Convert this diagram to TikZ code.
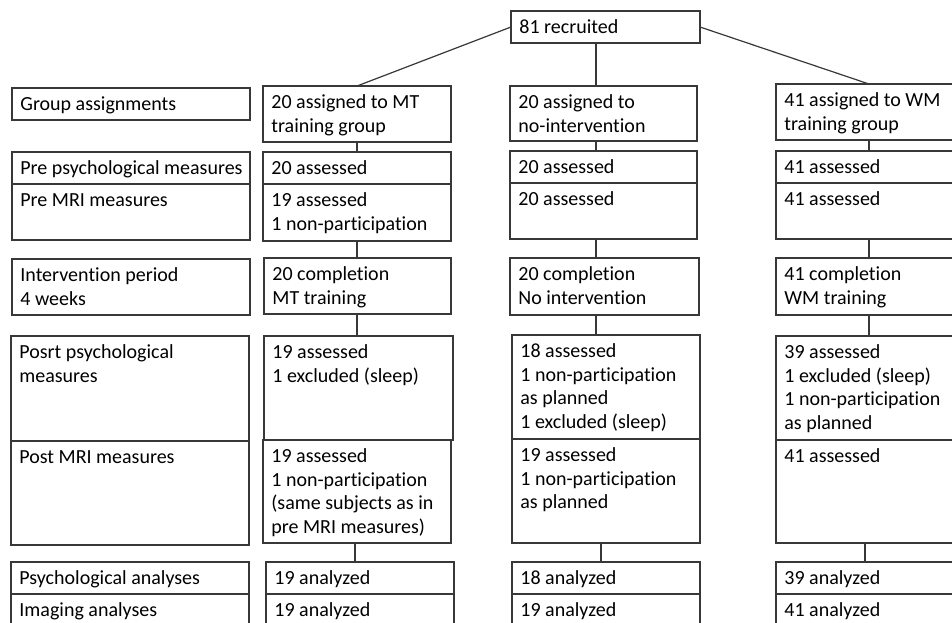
\documentclass[tikz,border=0pt]{standalone}
\usepackage{fontspec}
\setmainfont[Ligatures=NoCommon]{Carlito}
\usetikzlibrary{calc}
\tikzset{
  box/.style={draw=black!78, line width=1pt, inner sep=0pt, outer sep=0pt, rectangle},
  txt/.style={inner sep=0pt, outer sep=0pt, text=black, font=\fontsize{15}{17.6}\selectfont},
  conn/.style={draw=black!78, line width=0.9pt}
}
\newcommand\bx[6]{%
  \pgfmathsetmacro\bw{(#4-#2)*0.75}%
  \pgfmathsetmacro\bh{(#5-#3)*0.75}%
  \node[box, minimum width=\bw pt, minimum height=\bh pt, anchor=north west] (#1) at (#2,#3) {};
  \node[txt, anchor=base west] (#1t) at ([xshift=6.3pt,yshift=-17pt]#1.north west)
    {\begin{tabular}[t]{@{}l@{}}#6\end{tabular}};
}
\begin{document}
\begin{tikzpicture}[x=0.75pt,y=-0.75pt]
\path[use as bounding box] (0,0) rectangle (952,622);
\clip (0,0) rectangle (952,622);
\fill[white] (0,0) rectangle (952,622);

% top
\bx{top}{511}{11}{700}{43}{81 recruited}

% left labels
\bx{lga}{12}{88}{250}{120}{Group assignments}
\bx{lpp}{12}{152}{250}{184}{Pre psychological measures}
\bx{lpm}{12}{184}{250}{240}{Pre MRI measures}
\bx{lip}{12}{259}{250}{315}{Intervention period\\4 weeks}
\bx{lpop}{11}{336}{249}{441}{Posrt psychological\\measures}
\bx{lpom}{11}{441}{249}{545}{Post MRI measures}
\bx{lpa}{11}{562}{249}{594}{Psychological analyses}
\bx{lia}{11}{594}{249}{650}{Imaging analyses}

% column 1 (MT)
\bx{c1ga}{263}{86}{451}{142}{20 assigned to MT\\training group}
\bx{c1pp}{263}{152}{451}{184}{20 assessed}
\bx{c1pm}{263}{184}{451}{241}{19 assessed\\1 non-participation}
\bx{c1ip}{264}{258}{451}{314}{20 completion\\MT training}
\bx{c1pop}{264}{336}{453}{440}{19 assessed\\1 excluded (sleep)}
\bx{c1pom}{263}{440}{451}{543}{19 assessed\\1 non-participation\\(same subjects as in\\pre MRI measures)}
\bx{c1pa}{266}{562}{454}{594}{19 analyzed}
\bx{c1ia}{266}{594}{454}{650}{19 analyzed}

% column 2 (no intervention)
\bx{c2ga}{510}{86}{697}{141}{20 assigned to\\no-intervention}
\bx{c2pp}{510}{151}{697}{183}{20 assessed}
\bx{c2pm}{510}{183}{697}{239}{20 assessed}
\bx{c2ip}{510}{258}{699}{315}{20 completion\\No intervention}
\bx{c2pop}{512}{335}{700}{439}{18 assessed\\1 non-participation\\as planned\\1 excluded (sleep)}
\bx{c2pom}{512}{439}{700}{543}{19 assessed\\1 non-participation\\as planned}
\bx{c2pa}{512}{562}{700}{594}{18 analyzed}
\bx{c2ia}{512}{594}{700}{650}{19 analyzed}

% column 3 (WM)
\bx{c3ga}{776}{84}{962}{140}{41 assigned to WM\\training group}
\bx{c3pp}{776}{151}{962}{183}{41 assessed}
\bx{c3pm}{776}{183}{962}{239}{41 assessed}
\bx{c3ip}{776}{258}{962}{315}{41 completion\\WM training}
\bx{c3pop}{776}{336}{962}{440}{39 assessed\\1 excluded (sleep)\\1 non-participation\\as planned}
\bx{c3pom}{776}{440}{962}{543}{41 assessed}
\bx{c3pa}{776}{562}{962}{594}{39 analyzed}
\bx{c3ia}{776}{594}{962}{650}{41 analyzed}

% connector x positions
\coordinate (xa) at (357,0);
\coordinate (xb) at (355,0);
\coordinate (xc) at (596,0);
\coordinate (xd) at (601,0);
\coordinate (xe) at (869,0);
\coordinate (xf) at (865,0);

% from recruited
\draw[conn] (top.west) -- (c1ga.north);
\draw[conn] (top.east) -- (c3ga.north);
\draw[conn] (xc |- top.south) -- (xc |- c2ga.north);

% column 1
\draw[conn] (xa |- c1ga.south) -- (xa |- c1pp.north);
\draw[conn] (xa |- c1pm.south) -- (xa |- c1ip.north);
\draw[conn] (xa |- c1ip.south) -- (xa |- c1pop.north);
\draw[conn] (xb |- c1pom.south) -- (xb |- c1pa.north);

% column 2
\draw[conn] (xc |- c2ga.south) -- (xc |- c2pp.north);
\draw[conn] (xc |- c2pm.south) -- (xc |- c2ip.north);
\draw[conn] (xc |- c2ip.south) -- (xc |- c2pop.north);
\draw[conn] (xd |- c2pom.south) -- (xd |- c2pa.north);

% column 3
\draw[conn] (xe |- c3ga.south) -- (xe |- c3pp.north);
\draw[conn] (xe |- c3pm.south) -- (xe |- c3ip.north);
\draw[conn] (xe |- c3ip.south) -- (xe |- c3pop.north);
\draw[conn] (xf |- c3pom.south) -- (xf |- c3pa.north);
\end{tikzpicture}
\end{document}
